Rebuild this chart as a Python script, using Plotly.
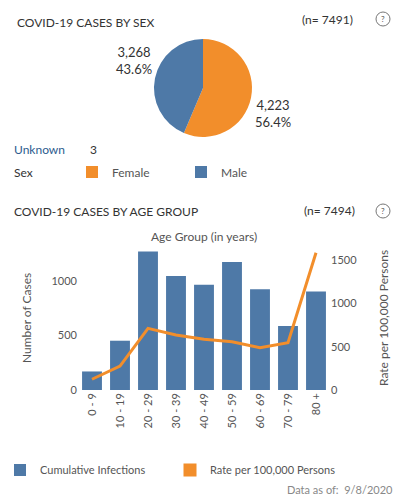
import plotly.graph_objects as go

# sex split
sex_labels = ["Female", "Male"]
sex_counts = [4223, 3268]
unknown_sex = 3

# age groups
age_groups = ["0 - 9", "10 - 19", "20 - 29", "30 - 39", "40 - 49",
              "50 - 59", "60 - 69", "70 - 79", "80 +"]
cases = [170, 452, 1270, 1046, 966, 1175, 924, 587, 904]
rate = [124, 277, 712, 635, 585, 558, 488, 546, 1586]

blue = "#4e79a7"
orange = "#f28e2b"
font = "Lato"

fig = go.Figure()

# pie for sex
fig.add_trace(go.Pie(
    labels=sex_labels, values=sex_counts,
    marker=dict(colors=[orange, blue]),
    sort=False, direction="clockwise", rotation=0,
    textinfo="none",
    domain=dict(x=[0.3, 0.715], y=[0.726, 0.922]),
    legend="legend", hoverinfo="label+value+percent",
))

# bars + rate line
fig.add_trace(go.Bar(
    x=age_groups, y=cases, name="Cumulative Infections",
    marker_color=blue, legend="legend2",
))
fig.add_trace(go.Scatter(
    x=age_groups, y=rate, yaxis="y2", mode="lines",
    line=dict(color=orange, width=3), showlegend=False,
))
# legend entry for rate (square like the original)
fig.add_trace(go.Scatter(
    x=[None], y=[None], mode="markers", name="Rate per 100,000 Persons",
    marker=dict(symbol="square", size=13, color=orange), legend="legend3",
))

fig.update_layout(
    template="none",
    width=400, height=500,
    margin=dict(l=0, r=0, t=0, b=0),
    paper_bgcolor="white", plot_bgcolor="white",
    font=dict(family=font, size=11, color="#555"),
    bargap=0.29,
    xaxis=dict(domain=[0.195, 0.825], tickangle=-90, showgrid=False, automargin=False,
               showline=False, ticks="", tickfont=dict(size=11, color="#555")),
    yaxis=dict(domain=[0.22, 0.5], range=[0, 1284], tickvals=[0, 500, 1000],
               showgrid=False, zeroline=False, automargin=False, ticks="",
               tickfont=dict(size=11, color="#555")),
    yaxis2=dict(overlaying="y", side="right", range=[0, 1617], automargin=False,
                tickvals=[0, 500, 1000, 1500], showgrid=False, zeroline=False, ticks="",
                tickfont=dict(size=11, color="#555")),
    legend=dict(orientation="h", x=0.18, y=1 - 172 / 500, yanchor="middle",
                xanchor="left", entrywidth=64, font=dict(size=12, color="#555"),
                itemclick=False),
    legend2=dict(orientation="h", x=0.0, y=1 - 470 / 500, yanchor="middle",
                 xanchor="left", font=dict(size=11, color="#555")),
    legend3=dict(orientation="h", x=0.425, y=1 - 470 / 500, yanchor="middle",
                 xanchor="left", font=dict(size=11, color="#555")),
)

ann = []
def text(s, x, y, anchor="left", size=12, color="#333", angle=0):
    ann.append(dict(text=s, x=x / 400, y=1 - y / 500, xref="paper", yref="paper",
                    xanchor=anchor, yanchor="middle", showarrow=False,
                    textangle=angle, font=dict(size=size, color=color, family=font)))

# pie slice labels, count and share
total = sum(sex_counts)
label_pos = {"Female": (273, 114), "Male": (134, 60)}
for lab, val in zip(sex_labels, sex_counts):
    px_, py_ = label_pos[lab]
    text(f"{val:,}<br>{val / total:.1%}", px_, py_, anchor="center", size=13)

text("COVID-19 CASES BY SEX", 15, 22, size=12)
text(f"(n= {total})", 355, 19, anchor="right", size=12)
text("Unknown", 12, 149, color="#2d5b8e")
text(str(unknown_sex), 88, 149)
text("Sex", 12, 172)
text("COVID-19 CASES BY AGE GROUP", 12, 212, size=12)
text(f"(n= {sum(cases)})", 357, 211, anchor="right", size=12)
text("Age Group (in years)", 204, 236, anchor="center", color="#555")
text("Number of Cases", 26, 318, anchor="center", color="#555", angle=-90)
text("Rate per 100,000 Persons", 383, 318, anchor="center", color="#555", angle=-90)
text("Data as of:  9/8/2020", 395, 489, anchor="right", size=11, color="#888")
for yy in (19, 211):
    text("?", 383, yy, anchor="center", size=8, color="#555")
fig.update_layout(annotations=ann)

for yy in (19, 211):
    fig.add_shape(type="circle", xref="paper", yref="paper",
                  x0=376 / 400, x1=390 / 400, y0=1 - (yy + 7) / 500, y1=1 - (yy - 7) / 500,
                  line=dict(color="#777", width=1))

# page body has a default margin; drop it so the figure fills the window
fig.write_html("out.html", config={"displayModeBar": False},
               post_script="document.body.style.margin='0';")
